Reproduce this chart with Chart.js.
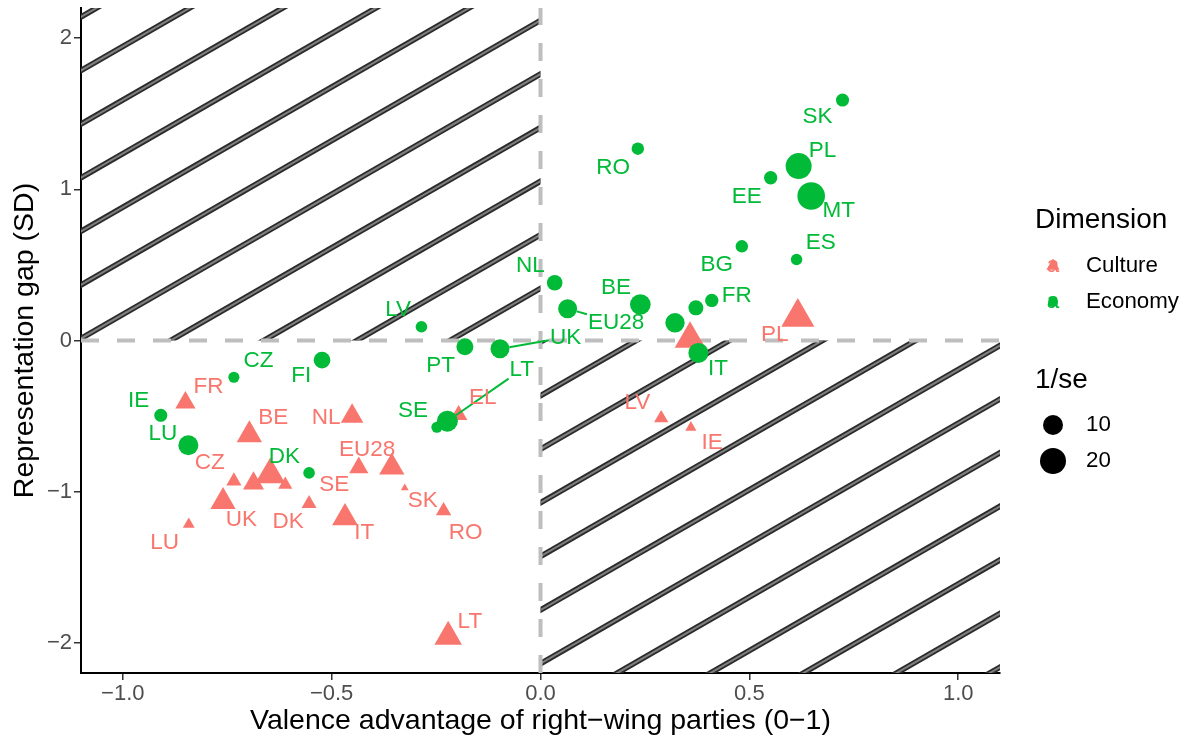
<!DOCTYPE html>
<html><head><meta charset="utf-8">
<script src="https://cdn.jsdelivr.net/npm/chart.js@4.4.1/dist/chart.umd.min.js"></script>
<style>html,body{margin:0;padding:0;background:#fff;}#wrap{width:1188px;height:743px;}</style>
</head><body><div id="wrap"><canvas id="c" width="1188" height="743"></canvas></div>
<script>
// ---------------- data ----------------
const econCountries = ["SK","PL","MT","EE","RO","BG","ES","NL","BE","EU28","FR","","","IT","LV","PT","UK","LT","SE","FI","DK","CZ","IE","LU"];
const econX = [0.723,0.618,0.648,0.551,0.233,0.482,0.613,0.034,0.239,0.065,0.410,0.372,0.322,0.378,-0.285,-0.181,-0.097,-0.223,-0.248,-0.523,-0.554,-0.734,-0.909,-0.843];
const econY = [1.591,1.154,0.956,1.077,1.269,0.623,0.536,0.382,0.238,0.210,0.265,0.216,0.117,-0.082,0.091,-0.042,-0.055,-0.534,-0.574,-0.130,-0.876,-0.243,-0.495,-0.693];
const econInvSE = [2.8,20.0,23.25,3.0,2.4,2.4,1.8,4.9,10.9,8.7,3.0,4.35,9.2,10.0,1.9,6.3,8.7,11.4,1.6,5.9,1.9,1.6,2.8,10.0];
const econLabelX = [0.663,0.675,0.714,0.494,0.174,0.422,0.671,-0.024,0.181,0.181,0.470,null,null,0.425,-0.341,-0.239,0.060,-0.045,-0.305,-0.573,-0.613,-0.675,-0.962,-0.904];
const econLabelY = [1.477,1.258,0.861,0.954,1.146,0.503,0.649,0.497,0.351,0.119,0.295,null,null,-0.185,0.205,-0.166,0.020,-0.192,-0.464,-0.232,-0.768,-0.132,-0.397,-0.616];

const cultCountries = ["PL","","LV","IE","EL","NL","EU28","SE","SK","RO","IT","DK","LT","FR","BE","CZ","","","","UK","LU"];
const cultX = [0.616,0.358,0.289,0.360,-0.196,-0.451,-0.356,-0.435,-0.325,-0.232,-0.468,-0.554,-0.221,-0.850,-0.697,-0.734,-0.647,-0.687,-0.611,-0.760,-0.842];
const cultY = [0.155,0.010,-0.514,-0.576,-0.493,-0.501,-0.839,-0.841,-0.976,-1.127,-1.173,-1.079,-1.960,-0.412,-0.625,-0.930,-0.888,-0.946,-0.954,-1.066,-1.217];
const cultInvSE = [17.4,14.2,1.4,0.55,2.76,6.1,8.4,3.7,0.25,1.8,8.9,1.6,10.6,4.35,8.4,1.7,13.3,4.9,1.3,8.4,0.7];
const cultLabelX = [0.561,null,0.232,0.411,-0.138,-0.513,-0.415,-0.494,-0.282,-0.179,-0.422,-0.604,-0.169,-0.795,-0.640,-0.792,null,null,null,-0.716,-0.900];
const cultLabelY = [0.040,null,-0.411,-0.675,-0.377,-0.510,-0.722,-0.954,-1.060,-1.272,-1.272,-1.199,-1.861,-0.305,-0.510,-0.808,null,null,null,-1.185,-1.338];

const segmentLabels = ["Economy:EU28","Economy:UK","Economy:LT"];
const xTicks = [-1.0,-0.5,0.0,0.5,1.0];
const yTicks = [-2,-1,0,1,2];
const sizeBreaks = [10,20];
const dimNames = ["Culture","Economy"];

// ---------------- styles ----------------
const FONT = '"Liberation Sans", Arial, Helvetica, sans-serif';
const RED = '#F8766D', GREEN = '#00BA38';
const allInv = econInvSE.concat(cultInvSE);
const vMin = Math.min(...allInv), vMax = Math.max(...allInv);
function circleR(v){ return 2.9 + 10.9*Math.sqrt((v - vMin)/(vMax - vMin)); }
const TRI = 1.555; // equal-area triangle circumradius factor
const minus = s => s.replace('-', '\u2212');

const econData = econX.map((x,i)=>({x, y:econY[i], v:econInvSE[i], label:econCountries[i], lx:econLabelX[i], ly:econLabelY[i]}));
const cultData = cultX.map((x,i)=>({x, y:cultY[i], v:cultInvSE[i], label:cultCountries[i], lx:cultLabelX[i], ly:cultLabelY[i]}));

const hatchPlugin = {
  id:'hatch',
  beforeDatasetsDraw(chart){
    const {ctx, chartArea:a, scales:{x, y}} = chart;
    const x0 = x.getPixelForValue(0), y0 = y.getPixelForValue(0);
    const s = 0.5756, gap = 53.6, base = y0 - 2;
    const rects = [[a.left, a.top, x0, y0],[x0, y0, a.right, a.bottom]];
    for (const [l,t,r,b] of rects){
      ctx.save();
      ctx.beginPath(); ctx.rect(l,t,r-l,b-t); ctx.clip();
      for (let k=-40;k<=40;k++){
        const c = base + k*gap;
        const xa = l-10, xb = r+10;
        const ya = c - s*(xa - a.left), yb = c - s*(xb - a.left);
        if (Math.max(ya,yb) < t-10 || Math.min(ya,yb) > b+10) continue;
        ctx.beginPath(); ctx.moveTo(xa,ya); ctx.lineTo(xb,yb);
        ctx.lineWidth = 5.6; ctx.strokeStyle = '#2b2b2b'; ctx.stroke();
        ctx.lineWidth = 2; ctx.strokeStyle = '#7f7f7f'; ctx.stroke();
      }
      ctx.restore();
    }
    ctx.save();
    ctx.beginPath(); ctx.rect(a.left,a.top,a.right-a.left,a.bottom-a.top); ctx.clip();
    ctx.strokeStyle = '#bebebe'; ctx.lineWidth = 4; ctx.setLineDash([18,18]);
    ctx.beginPath(); ctx.moveTo(a.left, y0); ctx.lineTo(a.right, y0); ctx.stroke();
    ctx.beginPath(); ctx.moveTo(x0, a.bottom); ctx.lineTo(x0, a.top); ctx.stroke();
    ctx.restore();
  }
};

const labelPlugin = {
  id:'labels',
  afterDatasetsDraw(chart){
    const {ctx, scales:{x, y}} = chart;
    ctx.save();
    const F = 22.5;
    ctx.font = F + 'px ' + FONT;
    chart.data.datasets.forEach(ds=>{
      const col = ds.backgroundColor;
      ds.data.forEach(d=>{
        if (!d.label) return;
        const px = x.getPixelForValue(d.x), py = y.getPixelForValue(d.y);
        const lx = x.getPixelForValue(d.lx), ly = y.getPixelForValue(d.ly);
        if (segmentLabels.includes(ds.label + ':' + d.label)){
          const w = ctx.measureText(d.label).width/2 + 1, h = F*0.36 + 1;
          const dx = px - lx, dy = py - ly;
          let t = Math.min(Math.abs(dx) > 0 ? w/Math.abs(dx) : 1e9, Math.abs(dy) > 0 ? h/Math.abs(dy) : 1e9);
          const ex = lx + dx*t, ey = ly + dy*t;
          const r = circleR(d.v) * (ds.label === 'Culture' ? TRI*0.6 : 1);
          const L = Math.hypot(ex-px, ey-py);
          const sx = px + (ex-px)*r/L, sy = py + (ey-py)*r/L;
          ctx.strokeStyle = col; ctx.lineWidth = 2;
          ctx.beginPath(); ctx.moveTo(sx,sy); ctx.lineTo(ex,ey); ctx.stroke();
        }
        ctx.fillStyle = col; ctx.textAlign = 'center'; ctx.textBaseline = 'middle';
        ctx.fillText(d.label, lx, ly);
      });
    });
    ctx.restore();
  }
};

const decorPlugin = {
  id:'decor',
  afterDraw(chart){
    const {ctx, chartArea:a} = chart;
    ctx.save();
    ctx.fillStyle = '#000';
    ctx.font = '28.5px ' + FONT;
    ctx.textAlign = 'center'; ctx.textBaseline = 'middle';
    ctx.fillText('Valence advantage of right\u2212wing parties (0\u22121)', (a.left+a.right)/2, 721);
    ctx.save(); ctx.translate(25, (a.top+a.bottom)/2); ctx.rotate(-Math.PI/2);
    ctx.fillText('Representation gap (SD)', 0, 0); ctx.restore();
    const lx = 1035, kx = 1053, tx = 1086;
    ctx.textAlign = 'left';
    ctx.font = '28px ' + FONT;
    ctx.fillText('Dimension', lx, 220);
    ctx.fillText('1/se', lx, 380);
    const keyY = [266, 302];
    dimNames.forEach((nm,i)=>{
      const col = nm === 'Culture' ? RED : GREEN;
      const cy = keyY[i];
      ctx.fillStyle = col;
      ctx.beginPath();
      if (nm === 'Culture'){
        const R = 7.6;
        ctx.moveTo(kx, cy - R);
        ctx.lineTo(kx + R*Math.sin(2*Math.PI/3), cy - R*Math.cos(2*Math.PI/3));
        ctx.lineTo(kx + R*Math.sin(4*Math.PI/3), cy - R*Math.cos(4*Math.PI/3));
        ctx.closePath();
      } else {
        ctx.arc(kx, cy, 4.9, 0, Math.PI*2);
      }
      ctx.fill();
      ctx.font = '22.5px ' + FONT; ctx.textAlign = 'center'; ctx.textBaseline = 'alphabetic';
      ctx.fillText('a', kx, cy + 0.26*22.5);
      ctx.fillStyle = '#000'; ctx.textAlign = 'left'; ctx.textBaseline = 'middle';
      ctx.font = '22.3px ' + FONT;
      ctx.fillText(nm, tx, cy);
    });
    const sY = [425, 461];
    sizeBreaks.forEach((b,i)=>{
      ctx.fillStyle = '#000';
      ctx.beginPath(); ctx.arc(kx, sY[i], circleR(b), 0, Math.PI*2); ctx.fill();
      ctx.font = '22.3px ' + FONT; ctx.textAlign = 'left'; ctx.textBaseline = 'middle';
      ctx.fillText(String(b), tx, sY[i]);
    });
    ctx.restore();
  }
};

Chart.defaults.font.family = FONT;
new Chart(document.getElementById('c'), {
  type:'scatter',
  data:{ datasets:[
    { label:'Economy', data:econData, order:0, backgroundColor:GREEN, borderWidth:0,
      pointStyle:'circle', pointRadius:c=>circleR(c.raw.v), pointHoverRadius:c=>circleR(c.raw.v) },
    { label:'Culture', data:cultData, order:1, backgroundColor:RED, borderWidth:0,
      pointStyle:'triangle', pointRadius:c=>circleR(c.raw.v)*TRI, pointHoverRadius:c=>circleR(c.raw.v)*TRI }
  ]},
  options:{
    responsive:false, devicePixelRatio:1, animation:false,
    layout:{ autoPadding:false, padding:{ top:8, right:188, left:0, bottom:0 } },
    plugins:{ legend:{display:false}, tooltip:{enabled:false} },
    events:[],
    scales:{
      x:{ type:'linear', min:-1.1, max:1.1,
        afterBuildTicks:s=>{ s.ticks = xTicks.map(v=>({value:v})); },
        afterFit:s=>{ s.height = 70; s.paddingLeft = 0; s.paddingRight = 0; },
        ticks:{ callback:v=>minus(Number(v).toFixed(1)), font:{size:22}, color:'#4d4d4d', padding:1, maxRotation:0, autoSkip:false },
        grid:{ display:true, drawOnChartArea:false, drawTicks:true, tickLength:7, color:'#333333', lineWidth:1.5 },
        border:{ display:true, color:'#000', width:2 } },
      y:{ type:'linear', min:-2.2, max:2.2,
        afterBuildTicks:s=>{ s.ticks = yTicks.map(v=>({value:v})); },
        afterFit:s=>{ s.width = 81; s.paddingTop = 0; s.paddingBottom = 0; },
        ticks:{ callback:v=>minus(String(v)), font:{size:22}, color:'#4d4d4d', padding:2, autoSkip:false },
        grid:{ display:true, drawOnChartArea:false, drawTicks:true, tickLength:7, color:'#333333', lineWidth:1.5 },
        border:{ display:true, color:'#000', width:2 } }
    }
  },
  plugins:[hatchPlugin, labelPlugin, decorPlugin]
});
</script></body></html>
